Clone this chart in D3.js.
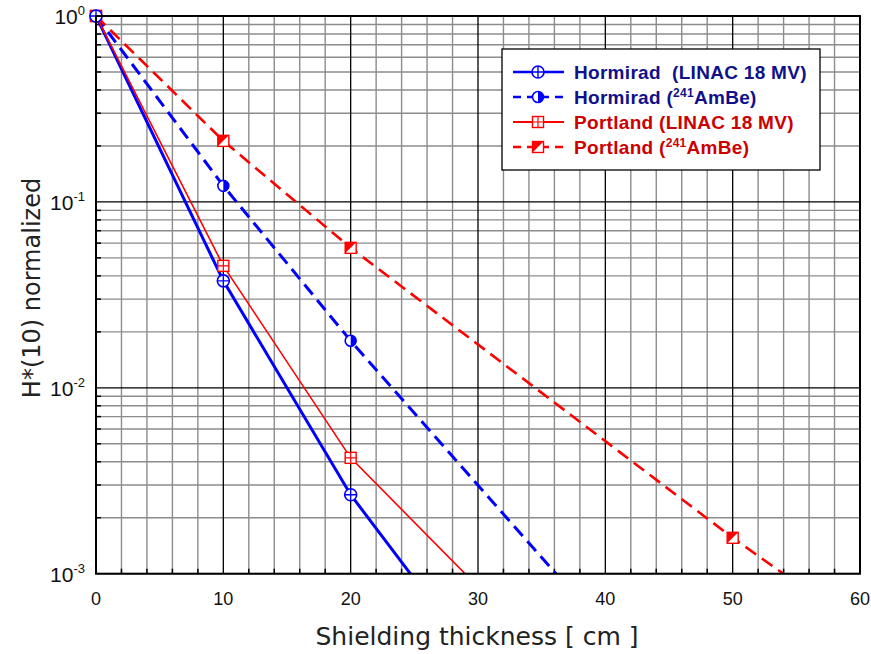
<!DOCTYPE html>
<html>
<head>
<meta charset="utf-8">
<script src="https://cdn.jsdelivr.net/npm/d3@7"></script>
<style>
  body { margin: 0; background: #fff; }
  svg text { font-family: "Liberation Sans", Arial, sans-serif; }
</style>
</head>
<body>
<svg id="drawing_region" width="871" height="654"></svg>
<script>
// thickness [cm] and normalized H*(10); last point of each list is the fitted tail (no marker)
var hormiradLinacX = [0, 10, 20, 30];
var hormiradLinacY = [1, 0.0376, 0.00266, 0.00033];
var hormiradAmbeX = [0, 10, 20, 40];
var hormiradAmbeY = [1, 0.122, 0.0179, 0.0005];
var portlandLinacX = [0, 10, 20, 30];
var portlandLinacY = [1, 0.0453, 0.0042, 0.00085];
var portlandAmbeX = [0, 10, 20, 50, 60];
var portlandAmbeY = [1, 0.213, 0.0566, 0.00156, 0.00051];
var markerCounts = [3, 3, 3, 4];

var xTicks = [0, 10, 20, 30, 40, 50, 60];
var yTicks = [1e-3, 1e-2, 1e-1, 1];
var yTickLabels = ["-3", "-2", "-1", "0"];
var legendLabels = [
  ["Hormirad\u00a0 (LINAC 18 MV)", null],
  ["Hormirad (", "241", "AmBe)"],
  ["Portland (LINAC 18 MV)", null],
  ["Portland (", "241", "AmBe)"]
];

var margin = {top: 16, left: 96, right: 11, bottom: 80};
var width = 871 - margin.left - margin.right;
var height = 654 - margin.top - margin.bottom - 0.3;

var svg = d3.select('#drawing_region');
var g = svg.append('g').attr('transform', `translate(${margin.left},${margin.top})`);

var x = d3.scaleLinear().domain([0, 60]).range([0, width]);
var y = d3.scaleLog().domain([1e-3, 1]).range([height, 0]);

// minor grid
var xMinor = d3.range(0, 61, 2).filter(v => v % 10 != 0);
var yMinor = [];
[1e-3, 1e-2, 1e-1].forEach(d => { for (let k = 2; k <= 9; k++) yMinor.push(d * k); });

g.selectAll('.xminor').data(xMinor).join('line')
  .attr('x1', d => x(d)).attr('x2', d => x(d)).attr('y1', 0).attr('y2', height)
  .attr('stroke', '#8c8c8c').attr('stroke-width', 1.4);
g.selectAll('.yminor').data(yMinor).join('line')
  .attr('y1', d => y(d)).attr('y2', d => y(d)).attr('x1', 0).attr('x2', width)
  .attr('stroke', '#8c8c8c').attr('stroke-width', 1.4);
// major grid
g.selectAll('.xmajor').data(xTicks).join('line')
  .attr('x1', d => x(d)).attr('x2', d => x(d)).attr('y1', 0).attr('y2', height)
  .attr('stroke', '#000').attr('stroke-width', 1.3);
g.selectAll('.ymajor').data(yTicks).join('line')
  .attr('y1', d => y(d)).attr('y2', d => y(d)).attr('x1', 0).attr('x2', width)
  .attr('stroke', '#000').attr('stroke-width', 1.3);

// small inward ticks on the left and bottom axes
g.selectAll('.ytick').data(yMinor).join('line')
  .attr('y1', d => y(d)).attr('y2', d => y(d)).attr('x1', 0).attr('x2', 5)
  .attr('stroke', '#000').attr('stroke-width', 1.5);
g.selectAll('.xtick').data(xMinor).join('line')
  .attr('x1', d => x(d)).attr('x2', d => x(d)).attr('y1', height).attr('y2', height - 5)
  .attr('stroke', '#000').attr('stroke-width', 1.5);

// tick labels
g.selectAll('.xlab').data(xTicks).join('text')
  .attr('x', d => x(d)).attr('y', height + 31)
  .attr('text-anchor', 'middle').attr('font-size', 18).attr('fill', '#111')
  .text(d => d);
var ylab = g.selectAll('.ylab').data(yTicks).join('text')
  .attr('x', -11).attr('y', d => y(d) + 8)
  .attr('text-anchor', 'end').attr('font-size', 21).attr('fill', '#111');
ylab.append('tspan').text('10');
ylab.append('tspan').attr('dy', -9).attr('font-size', 13).text((d, i) => yTickLabels[i]);

// series
var series = [
  {xs: hormiradLinacX, ys: hormiradLinacY, color: '#0000ff', width: 3, dash: null, marker: 'circlePlus'},
  {xs: hormiradAmbeX, ys: hormiradAmbeY, color: '#0000ff', width: 3, dash: '13,7', marker: 'circleHalf'},
  {xs: portlandLinacX, ys: portlandLinacY, color: '#ff0000', width: 1.6, dash: null, marker: 'squarePlus'},
  {xs: portlandAmbeX, ys: portlandAmbeY, color: '#ff0000', width: 2.6, dash: '13,7', marker: 'squareHalf'}
];

svg.append('clipPath').attr('id', 'clip').append('rect')
  .attr('x', 0).attr('y', 0).attr('width', width).attr('height', height);
var plot = g.append('g').attr('clip-path', 'url(#clip)');

var line = d3.line().x(d => x(d[0])).y(d => y(d[1]));

function drawMarker(sel, type, color) {
  if (type == 'circlePlus') {
    sel.append('circle').attr('r', 6).attr('fill', '#fff').attr('stroke', color).attr('stroke-width', 1.6);
    sel.append('path').attr('d', 'M-6,0H6M0,-6V6').attr('stroke', color).attr('stroke-width', 1.4);
  } else if (type == 'circleHalf') {
    sel.append('circle').attr('r', 5.5).attr('fill', '#fff').attr('stroke', color).attr('stroke-width', 1.6);
    sel.append('path').attr('d', 'M0,-5.5A5.5,5.5 0 0 1 0,5.5Z').attr('fill', color);
  } else if (type == 'squarePlus') {
    sel.append('rect').attr('x', -5.5).attr('y', -5.5).attr('width', 11).attr('height', 11)
      .attr('fill', '#fff').attr('stroke', color).attr('stroke-width', 1.4);
    sel.append('path').attr('d', 'M-5.5,0H5.5M0,-5.5V5.5').attr('stroke', color).attr('stroke-width', 1.2);
  } else {
    sel.append('rect').attr('x', -5.5).attr('y', -5.5).attr('width', 11).attr('height', 11)
      .attr('fill', '#fff').attr('stroke', color).attr('stroke-width', 1.4);
    sel.append('path').attr('d', 'M-5.5,-5.5H5.5L-5.5,5.5Z').attr('fill', color);
  }
}

series.forEach((s, i) => {
  var pts = s.xs.map((v, j) => [v, s.ys[j]]);
  plot.append('path').datum(pts)
    .attr('d', line).attr('fill', 'none')
    .attr('stroke', s.color).attr('stroke-width', s.width)
    .attr('stroke-dasharray', s.dash);
});
series.slice().reverse().forEach((s, ri) => {
  var i = series.length - 1 - ri;
  var pts = s.xs.slice(0, markerCounts[i]).map((v, j) => [v, s.ys[j]]);
  pts.forEach(p => {
    var m = g.append('g').attr('transform', `translate(${x(p[0])},${y(p[1])})`);
    drawMarker(m, s.marker, s.color);
  });
});

// frame
g.append('rect').attr('width', width).attr('height', height)
  .attr('fill', 'none').attr('stroke', '#000').attr('stroke-width', 2);

// legend
var legend = svg.append('g').attr('transform', 'translate(502,49)');
legend.append('rect').attr('width', 318).attr('height', 121)
  .attr('fill', '#fff').attr('stroke', '#000').attr('stroke-width', 1.3);
var textColors = ['#10108a', '#10108a', '#cc0000', '#cc0000'];
series.forEach((s, i) => {
  var ly = 23 + i * 25;
  var row = legend.append('g').attr('transform', `translate(0,${ly})`);
  row.append('line').attr('x1', 11).attr('x2', 62).attr('y1', 0).attr('y2', 0)
    .attr('stroke', s.color).attr('stroke-width', s.width == 1.6 ? 2 : 2.5)
    .attr('stroke-dasharray', s.dash ? '8,6' : null);
  var m = row.append('g').attr('transform', 'translate(36,0)');
  drawMarker(m, s.marker, s.color);
  var t = row.append('text').attr('x', 72).attr('y', 7)
    .attr('font-size', 19).attr('font-weight', 'bold').attr('letter-spacing', 0.3)
    .attr('fill', textColors[i]);
  var lab = legendLabels[i];
  t.append('tspan').text(lab[0]);
  if (lab[1]) {
    t.append('tspan').attr('dy', -7).attr('font-size', 12).text(lab[1]);
    t.append('tspan').attr('dy', 7).text(lab[2]);
  }
});

// axis titles
svg.append('text').attr('x', 477).attr('y', 645)
  .attr('text-anchor', 'middle').attr('font-size', 25).attr('fill', '#222')
  .style('font-family', '"DejaVu Sans", sans-serif')
  .text('Shielding thickness [ cm ]');
svg.append('text').attr('transform', 'translate(40,288) rotate(-90)')
  .attr('text-anchor', 'middle').attr('font-size', 24).attr('fill', '#222')
  .style('font-family', '"DejaVu Sans", sans-serif')
  .text('H*(10) normalized');
</script>
</body>
</html>
